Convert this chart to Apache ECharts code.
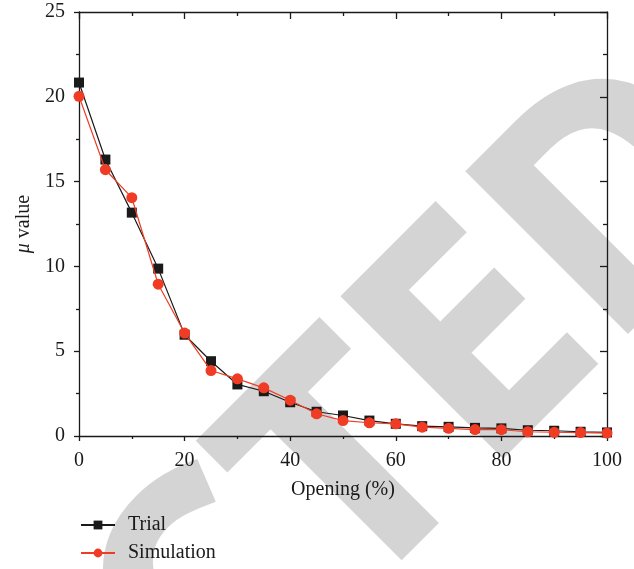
<!DOCTYPE html>
<html>
<head>
<meta charset="utf-8">
<title>μ value vs opening</title>
<script src="https://cdn.jsdelivr.net/npm/echarts@6/dist/echarts.min.js"></script>
<style>
  html, body { margin: 0; padding: 0; background: #ffffff; }
  #chart { width: 634px; height: 569px; }
</style>
</head>
<body>
<div id="chart"></div>
<script>
// Valve opening (%) and the measured / simulated μ value at each step
const openings = [0, 5, 10, 15, 20, 25, 30, 35, 40, 45, 50, 55, 60, 65, 70, 75, 80, 85, 90, 95, 100];
const trialValues = [20.84, 16.3, 13.17, 9.87, 5.97, 4.41, 3.04, 2.64, 1.99, 1.43, 1.21, 0.91, 0.72, 0.58, 0.54, 0.48, 0.45, 0.34, 0.31, 0.25, 0.21];
const simulationValues = [20.03, 15.7, 14.05, 8.95, 6.07, 3.86, 3.37, 2.84, 2.11, 1.31, 0.91, 0.78, 0.72, 0.52, 0.45, 0.38, 0.37, 0.25, 0.22, 0.2, 0.17];
const xTicks = [0, 20, 40, 60, 80, 100];
const yTicks = [0, 5, 10, 15, 20, 25];

const SERIF = '"Liberation Serif", "DejaVu Serif", serif';
const INK = '#1a1a1a';
const RED = '#f03c24';

const pairs = (ys) => openings.map((x, i) => [x, ys[i]]);

// ---- diagonal "RETRACTED" stamp, laid out along a 45° baseline ----
// Work in a rotated frame: u runs along the baseline (up-right), v points "up" (up-left).
const STAMP_FAMILY = '"Open Sans", "Noto Sans", sans-serif';
const STAMP_STROKE = 5;
const STAMP_CAP = 232;          // outer cap height of the letters, px
const E_LEFT_U = 27.6;          // outer left edge of the second E along u
const BASE_V = -680.2;          // outer baseline along v
const stamp = (function () {
  const ctx = document.createElement('canvas').getContext('2d');
  ctx.font = 'bold 100px ' + STAMP_FAMILY;
  const cap100 = ctx.measureText('E').actualBoundingBoxAscent;
  const size = (STAMP_CAP - STAMP_STROKE) / cap100 * 100;
  const font = 'bold ' + size.toFixed(1) + 'px ' + STAMP_FAMILY;
  ctx.font = font;
  const prefix = ctx.measureText('RETRACT').width;
  const eLsb = -ctx.measureText('E').actualBoundingBoxLeft;
  ctx.textBaseline = 'middle';
  const midToBase = ctx.measureText('E').actualBoundingBoxDescent;
  const u0 = E_LEFT_U + STAMP_STROKE / 2 - (prefix + eLsb);
  const v0 = BASE_V + STAMP_STROKE / 2;
  return {
    font: font,
    x: (u0 - v0) / Math.SQRT2,
    y: -(u0 + v0) / Math.SQRT2,
    textY: -midToBase
  };
})();

const chart = echarts.init(document.getElementById('chart'), null, { renderer: 'canvas' });

const axisLine = { show: true, onZero: false, lineStyle: { color: INK, width: 1.3 } };

chart.setOption({
  backgroundColor: '#ffffff',
  animation: false,
  graphic: {
    elements: [{
      type: 'text',
      silent: true,
      z: -10,
      x: stamp.x,
      y: stamp.y,
      rotation: Math.PI / 4,
      style: {
        text: 'RETRACTED',
        x: 0,
        y: stamp.textY,
        font: stamp.font,
        fill: '#d4d4d4',
        stroke: '#d4d4d4',
        lineWidth: STAMP_STROKE,
        lineJoin: 'miter',
        textAlign: 'left',
        textVerticalAlign: 'middle',
        align: 'left',
        verticalAlign: 'middle'
      }
    }]
  },
  grid: { left: 79, right: 27, top: 12, bottom: 133, containLabel: false },
  legend: {
    orient: 'vertical',
    left: 80,
    top: 515,
    padding: 0,
    itemWidth: 34,
    itemHeight: 11,
    itemGap: 8,
    textStyle: { fontFamily: SERIF, fontSize: 20, color: INK, padding: [0, 0, 0, 8] },
    data: ['Trial', 'Simulation']
  },
  xAxis: [{
    type: 'value',
    position: 'bottom',
    min: 0, max: 100, interval: 20,
    name: 'Opening (%)',
    nameLocation: 'middle',
    nameGap: 44,
    nameTextStyle: { fontFamily: SERIF, fontSize: 20, color: INK },
    axisLine: axisLine,
    axisTick: { show: true, inside: false, length: 5, lineStyle: { color: INK, width: 1.3 } },
    minorTick: { show: true, splitNumber: 2, length: 3, lineStyle: { color: INK, width: 1.3 } },
    splitLine: { show: false },
    axisLabel: {
      margin: 15, fontFamily: SERIF, fontSize: 20, color: INK,
      customValues: xTicks
    }
  }, {
    type: 'value',
    position: 'top',
    min: 0, max: 100, interval: 20,
    axisLine: axisLine,
    axisTick: { show: true, inside: true, length: 7, lineStyle: { color: INK, width: 1.3 } },
    minorTick: { show: true, splitNumber: 2, length: 4, lineStyle: { color: INK, width: 1.3 } },
    splitLine: { show: false },
    axisLabel: { show: false }
  }],
  yAxis: [{
    type: 'value',
    position: 'left',
    min: 0, max: 25, interval: 5,
    name: '{i|μ} value',
    nameLocation: 'middle',
    nameGap: 45,
    nameRotate: 90,
    nameTextStyle: {
      fontFamily: SERIF, fontSize: 20, color: INK,
      rich: { i: { fontFamily: SERIF, fontSize: 20, fontStyle: 'italic', color: INK } }
    },
    axisLine: axisLine,
    axisTick: { show: true, inside: false, length: 5, lineStyle: { color: INK, width: 1.3 } },
    minorTick: { show: true, splitNumber: 2, length: 3, lineStyle: { color: INK, width: 1.3 } },
    splitLine: { show: false },
    axisLabel: {
      margin: 14, fontFamily: SERIF, fontSize: 20, color: INK,
      customValues: yTicks
    }
  }, {
    type: 'value',
    position: 'right',
    min: 0, max: 25, interval: 5,
    axisLine: axisLine,
    axisTick: { show: true, inside: true, length: 7, lineStyle: { color: INK, width: 1.3 } },
    minorTick: { show: true, splitNumber: 2, length: 4, lineStyle: { color: INK, width: 1.3 } },
    splitLine: { show: false },
    axisLabel: { show: false }
  }],
  series: [{
    name: 'Trial',
    type: 'line',
    xAxisIndex: 0, yAxisIndex: 0,
    data: pairs(trialValues),
    symbol: 'rect',
    symbolSize: 10,
    showAllSymbol: true,
    itemStyle: { color: INK },
    lineStyle: { color: INK, width: 1.2 },
    z: 3
  }, {
    name: 'Simulation',
    type: 'line',
    xAxisIndex: 0, yAxisIndex: 0,
    data: pairs(simulationValues),
    symbol: 'circle',
    symbolSize: 11,
    showAllSymbol: true,
    itemStyle: { color: RED },
    lineStyle: { color: RED, width: 1.2 },
    z: 4
  }]
});
</script>
</body>
</html>
